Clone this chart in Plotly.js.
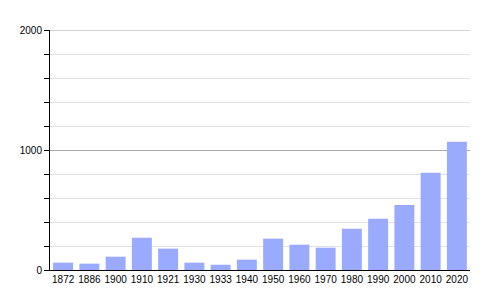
<!DOCTYPE html>
<html><head><meta charset="utf-8">
<script src="https://cdn.plot.ly/plotly-3.0.1.min.js"></script>
<style>body{margin:0;}#c{width:500px;height:300px;}</style>
</head><body><div id="c"></div>
<script>
const years = ["1872","1886","1900","1910","1921","1930","1933","1940","1950","1960","1970","1980","1990","2000","2010","2020"];
const population = [61,53,111,269,178,61,44,86,261,211,186,344,428,542,811,1069];
const yTicks = [0,1000,2000];

Plotly.newPlot('c', [{
  type:'bar', x: years, y: population,
  marker:{color:'#99aaff'}, hoverinfo:'none'
}], {
  width:500, height:300,
  margin:{l:50,r:30,t:30,b:30},
  bargap:0.24,
  paper_bgcolor:'#fff', plot_bgcolor:'#fff',
  font:{family:'Liberation Sans, Arial, sans-serif', size:10, color:'#000'},
  xaxis:{type:'category', showline:true, linecolor:'#000', linewidth:1, ticks:'', showgrid:false, tickfont:{size:10}, fixedrange:true},
  yaxis:{range:[0,2000], tickvals:yTicks, ticktext:yTicks.map(String), ticks:'outside', ticklen:5, tickcolor:'#000',
    showline:true, linecolor:'#000', linewidth:1, showgrid:true, gridcolor:'#aaaaaa', zeroline:false,
    minor:{dtick:200, ticks:'outside', ticklen:5, tickcolor:'#000', showgrid:true, gridcolor:'#e2e2e2'},
    tickfont:{size:10}, fixedrange:true},
  shapes:[{type:'line', xref:'paper', x0:0, x1:1, yref:'y', y0:yTicks[yTicks.length-1], y1:yTicks[yTicks.length-1],
    line:{color:'#aaaaaa', width:1}, layer:'below'}],
  showlegend:false
}, {displayModeBar:false, staticPlot:true});
</script></body></html>
